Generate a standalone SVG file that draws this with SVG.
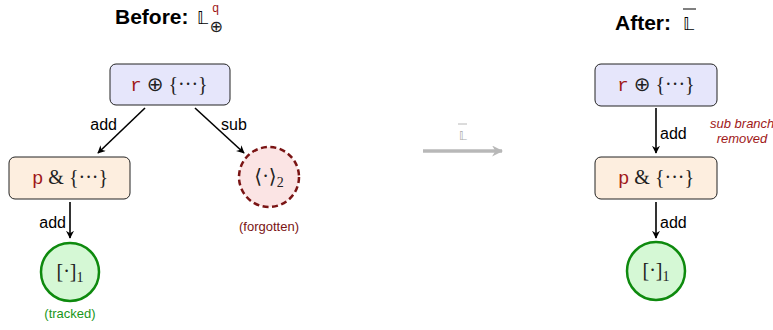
<svg xmlns="http://www.w3.org/2000/svg" width="773" height="330" viewBox="0 0 773 330">
  <style>
    .title { font-family: "Liberation Sans", "DejaVu Sans", sans-serif; font-weight: bold; font-size: 21px; fill: #000; }
    .bb { font-family: "DejaVu Sans", sans-serif; font-size: 17px; fill: #000; }
    .math { font-family: "Liberation Serif", "DejaVu Serif", serif; font-size: 20px; fill: #222; }
    .op { font-family: "DejaVu Sans", sans-serif; font-size: 20px; }
    .tt { font-family: "Liberation Mono", "DejaVu Sans Mono", monospace; fill: #a01818; font-size: 19px; }
    .sub { font-size: 14px; }
    .lbl { font-family: "Liberation Sans", "DejaVu Sans", sans-serif; font-size: 16px; fill: #000; }
    .note { font-family: "Liberation Sans", "DejaVu Sans", sans-serif; font-size: 13px; }
    .box-or { fill: #e6e6fb; stroke: #222; stroke-width: 1; }
    .box-and { fill: #fdeedf; stroke: #222; stroke-width: 1; }
    .tracked { fill: #d5f8d5; stroke: #0e8a0e; stroke-width: 2.5; }
    .forgot { fill: #fbe4e4; stroke: #7a1414; stroke-width: 2.5; stroke-dasharray: 6 3.5; }
    .edge { stroke: #000; stroke-width: 1.6; fill: none; marker-end: url(#arr); }
  </style>
  <defs>
    <marker id="arr" viewBox="0 0 10 10" refX="9" refY="5" markerWidth="8" markerHeight="8" markerUnits="userSpaceOnUse" orient="auto">
      <path d="M0,0 L10,5 L0,10 L3,5 Z" fill="#000"/>
    </marker>
    <marker id="garr" viewBox="0 0 10 10" refX="9" refY="5" markerWidth="11" markerHeight="11" markerUnits="userSpaceOnUse" orient="auto">
      <path d="M0,0 L10,5 L0,10 L3,5 Z" fill="#b8b8b8"/>
    </marker>
  </defs>

  <!-- titles -->
  <g id="title-before">
    <text class="title" x="115" y="24">Before:</text>
    <text class="bb" x="197" y="24">𝕃</text>
    <text class="tt" x="212" y="12" style="font-size:12px">q</text>
    <text font-family="DejaVu Sans, sans-serif" x="209.5" y="32" font-size="16" fill="#222">⊕</text>
  </g>
  <g id="title-after">
    <text class="title" x="615" y="30">After:</text>
    <text class="bb" x="683" y="30">𝕃</text>
    <line x1="683" y1="9" x2="696" y2="9" stroke="#000" stroke-width="1"/>
  </g>

  <!-- connectors -->
  <g id="connectors">
    <line class="edge" x1="145" y1="108" x2="98" y2="153"/>
    <line class="edge" x1="195" y1="108" x2="244" y2="153"/>
    <line class="edge" x1="70" y1="202" x2="70" y2="238"/>
    <line class="edge" x1="656" y1="108" x2="656" y2="153"/>
    <line class="edge" x1="656" y1="202" x2="656" y2="238"/>
    <line x1="423" y1="151" x2="502" y2="151" stroke="#b8b8b8" stroke-width="3.5" marker-end="url(#garr)"/>
    <text class="lbl" x="117" y="130" text-anchor="end">add</text>
    <text class="lbl" x="221" y="130">sub</text>
    <text class="lbl" x="66" y="228" text-anchor="end">add</text>
    <text class="lbl" x="660" y="139">add</text>
    <text class="lbl" x="660" y="228">add</text>
    <text x="463" y="140" text-anchor="middle" font-family="DejaVu Sans, sans-serif" font-size="12" fill="#aaaaaa">𝕃</text>
    <line x1="458" y1="124" x2="467" y2="124" stroke="#b8b8b8" stroke-width="1"/>
  </g>

  <!-- before tree -->
  <g id="r-before">
    <rect class="box-or" x="110" y="64" width="120" height="41" rx="6"/>
    <text class="math" x="169" y="91" text-anchor="middle"><tspan class="tt">r</tspan> <tspan class="op">⊕</tspan> {···}</text>
  </g>
  <g id="p-before">
    <rect class="box-and" x="9" y="157" width="121" height="42" rx="6"/>
    <text class="math" x="70" y="184" text-anchor="middle"><tspan class="tt">p</tspan> &amp; {···}</text>
  </g>
  <g id="hole-forgotten">
    <circle class="forgot" cx="269" cy="177" r="30"/>
    <text class="math" x="269" y="183" text-anchor="middle">⟨·⟩<tspan class="sub" dy="4">2</tspan></text>
    <text class="note" x="269" y="231" text-anchor="middle" fill="#7a1414">(forgotten)</text>
  </g>
  <g id="hole-tracked">
    <circle class="tracked" cx="70" cy="272" r="29"/>
    <text class="math" x="70" y="278" text-anchor="middle">[·]<tspan class="sub" dy="4">1</tspan></text>
    <text class="note" x="70" y="318" text-anchor="middle" fill="#1a961a">(tracked)</text>
  </g>

  <!-- after tree -->
  <g id="r-after">
    <rect class="box-or" x="595" y="64" width="122" height="42" rx="6"/>
    <text class="math" x="656" y="91" text-anchor="middle"><tspan class="tt">r</tspan> <tspan class="op">⊕</tspan> {···}</text>
  </g>
  <g id="p-after">
    <rect class="box-and" x="595" y="157" width="122" height="42" rx="6"/>
    <text class="math" x="656" y="184" text-anchor="middle"><tspan class="tt">p</tspan> &amp; {···}</text>
  </g>
  <g id="hole-after">
    <circle class="tracked" cx="656" cy="271" r="29"/>
    <text class="math" x="656" y="277" text-anchor="middle">[·]<tspan class="sub" dy="4">1</tspan></text>
  </g>
  <g id="note-removed">
    <text class="note" x="710" y="128" font-style="italic" fill="#a01818">sub branch</text>
    <text class="note" x="742" y="143" text-anchor="middle" font-style="italic" fill="#a01818">removed</text>
  </g>
</svg>
